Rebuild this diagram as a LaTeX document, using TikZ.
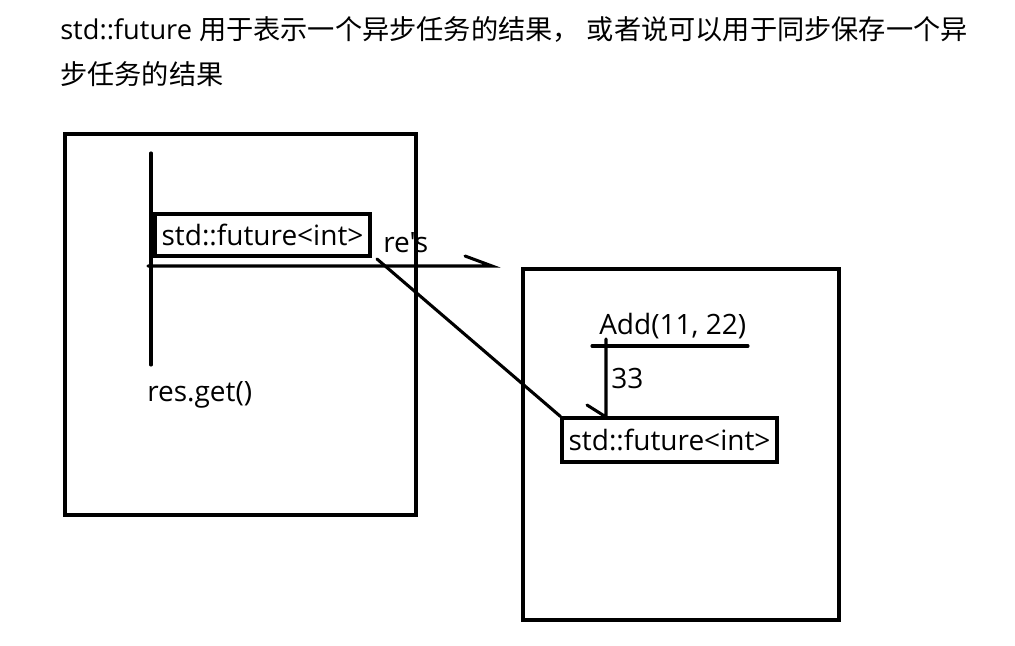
\documentclass[tikz,border=0pt]{standalone}
\usepackage{fontspec}
\setmainfont{Open Sans}[Ligatures=TeXOff]
\newfontfamily\cjk{Noto Sans CJK SC}
\begin{document}
\begin{tikzpicture}[x=0.75pt,y=-0.75pt,
  stroke/.style={line width=2.3pt, line cap=round},
  frame/.style={draw, line width=2.3pt, inner sep=0pt},
  label/.style={font=\fontsize{21}{25}\selectfont, inner sep=0pt},
  typebox/.style={draw, line width=2.3pt, inner sep=0pt, font=\fontsize{21}{25}\selectfont},
  title/.style={font=\fontsize{20.4}{24}\selectfont, inner sep=0pt, anchor=base west}]
\useasboundingbox (0,0) rectangle (1015,646);
% title
\node[title] (t1) at (60,39) {std::future {\cjk 用于表示一个异步任务的结果，} {\cjk 或者说可以用于同步保存一个异}};
\node[title] (t2) at (60,84) {\cjk 步任务的结果};
% left frame
\node[frame, minimum width=351*0.75pt, minimum height=381*0.75pt] (frameL) at (240.5,324.5) {};
\coordinate (vtop) at (151,153);
\coordinate (vbot) at (151,365);
\draw[stroke] (vtop) -- (vbot);
\node[typebox, minimum width=215*0.75pt, minimum height=42*0.75pt] (boxL) at (262.5,235) {std::future<int>};
\coordinate (hl) at (148,266);
\coordinate (hr) at (492,266);
\coordinate (hbarb) at (465,256);
\draw[stroke] (hl) -- (hr) -- (hbarb);
\node[label, anchor=west] (res) at (383,243) {re's};
\node[label, anchor=west] (get) at (147,395) {res.get()};
% right frame
\node[frame, minimum width=316*0.75pt, minimum height=351*0.75pt] (frameR) at (681,444.5) {};
\node[label, anchor=west] (add) at (599,326) {Add(11, 22)};
\coordinate (ul) at (592,346);
\coordinate (ur) at (748,346);
\draw[stroke] (ul) -- (ur);
\coordinate (vt) at (606,339);
\coordinate (vb) at (606,417);
\coordinate (vbarb) at (587,405);
\draw[stroke] (vt) -- (vb) -- (vbarb);
\node[label, anchor=west] (n33) at (611,378) {33};
\node[typebox, minimum width=215*0.75pt, minimum height=44*0.75pt] (boxR) at (669.5,440) {std::future<int>};
\coordinate (dstart) at (377,259);
\draw[stroke] (dstart) -- (boxR.north west);
\end{tikzpicture}
\end{document}
